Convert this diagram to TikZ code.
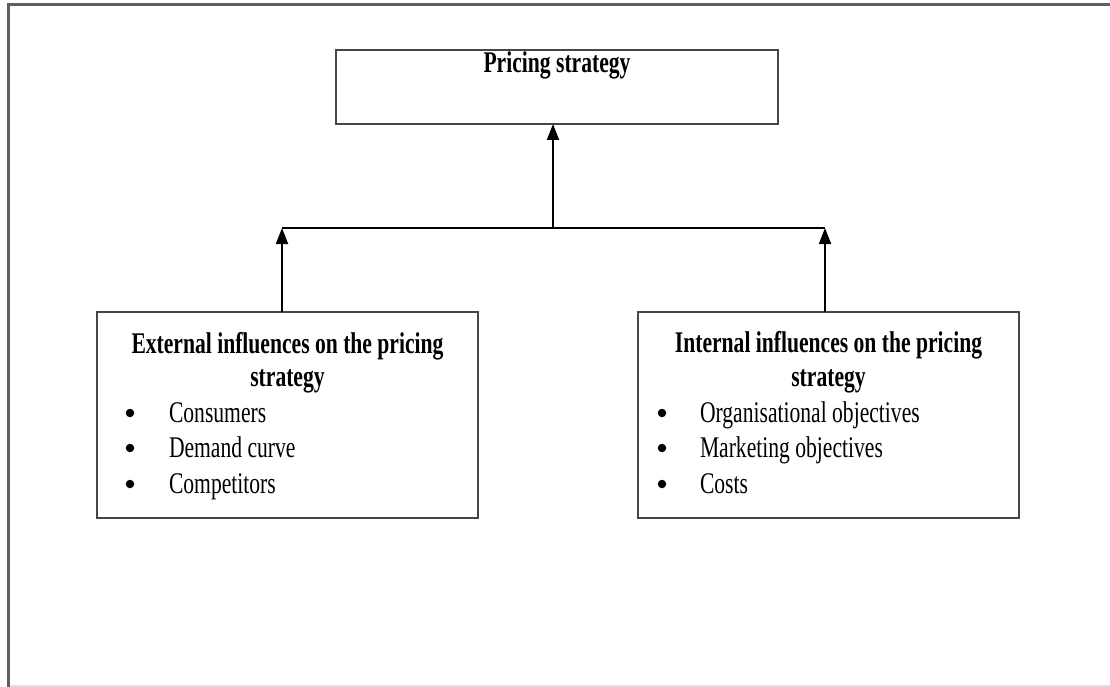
\documentclass[tikz,border=0pt]{standalone}
\usepackage{fontspec}
\setmainfont{Liberation Serif}[FakeStretch=0.72]
\usetikzlibrary{arrows.meta}
\definecolor{framegray}{RGB}{95,95,95}
\definecolor{boxgray}{RGB}{70,70,70}
\definecolor{lightline}{RGB}{225,225,225}
\tikzset{
  every node/.style={inner sep=0pt, outer sep=0pt},
  boxshape/.style={draw=boxgray, line width=2pt, rectangle, fill=white},
  ttl/.style={font=\fontsize{30}{36}\selectfont\bfseries, anchor=base},
  itm/.style={font=\fontsize{30}{36}\selectfont, anchor=base west},
  bul/.style={circle, fill=black, minimum size=8.5pt},
  conn/.style={draw=black, line width=1.8pt},
  arr/.style={conn, -{Triangle[width=12pt,length=16pt]}}
}
\begin{document}
\begin{tikzpicture}[x=1pt, y=-1pt]
\useasboundingbox (0,0) rectangle (1110,687);
% outer frame
\draw[framegray, line width=3pt] (8,687) -- (8,5) -- (1110,5);
\draw[lightline, line width=1.2pt] (10,686) -- (1110,686);
% boxes
\node[boxshape, minimum width=442pt, minimum height=74pt] (top) at (557,87) {};
\node[boxshape, minimum width=381pt, minimum height=206pt] (ext) at (287.5,415) {};
\node[boxshape, minimum width=381pt, minimum height=206pt] (int) at (828.5,415) {};
% top text
\node[ttl] (toptxt) at (557,73) {Pricing strategy};
% external text
\node[ttl] (extt1) at (287.5,353) {External influences on the pricing};
\node[ttl] (extt2) at (287.5,386) {strategy};
\node[bul] (eb1) at (130,413) {};
\node[bul] (eb2) at (130,448) {};
\node[bul] (eb3) at (130,484) {};
\node[itm] (ei1) at (169,422) {Consumers};
\node[itm] (ei2) at (169,457) {Demand curve};
\node[itm] (ei3) at (169,493) {Competitors};
% internal text
\node[ttl] (intt1) at (828.5,352) {Internal influences on the pricing};
\node[ttl] (intt2) at (828.5,386) {strategy};
\node[bul] (ib1) at (662,413) {};
\node[bul] (ib2) at (662,448) {};
\node[bul] (ib3) at (662,484) {};
\node[itm] (ii1) at (700,422) {Organisational objectives};
\node[itm] (ii2) at (700,457) {Marketing objectives};
\node[itm] (ii3) at (700,493) {Costs};
% connectors
\coordinate (jm) at (553,228);
\coordinate (jl) at (282,228);
\coordinate (jr) at (825,228);
\draw[conn] (jl) -- (jr);
\draw[arr] (jm) -- (top.south -| jm);
\draw[arr] (ext.north -| jl) -- (jl);
\draw[arr] (int.north -| jr) -- (jr);
\end{tikzpicture}
\end{document}
